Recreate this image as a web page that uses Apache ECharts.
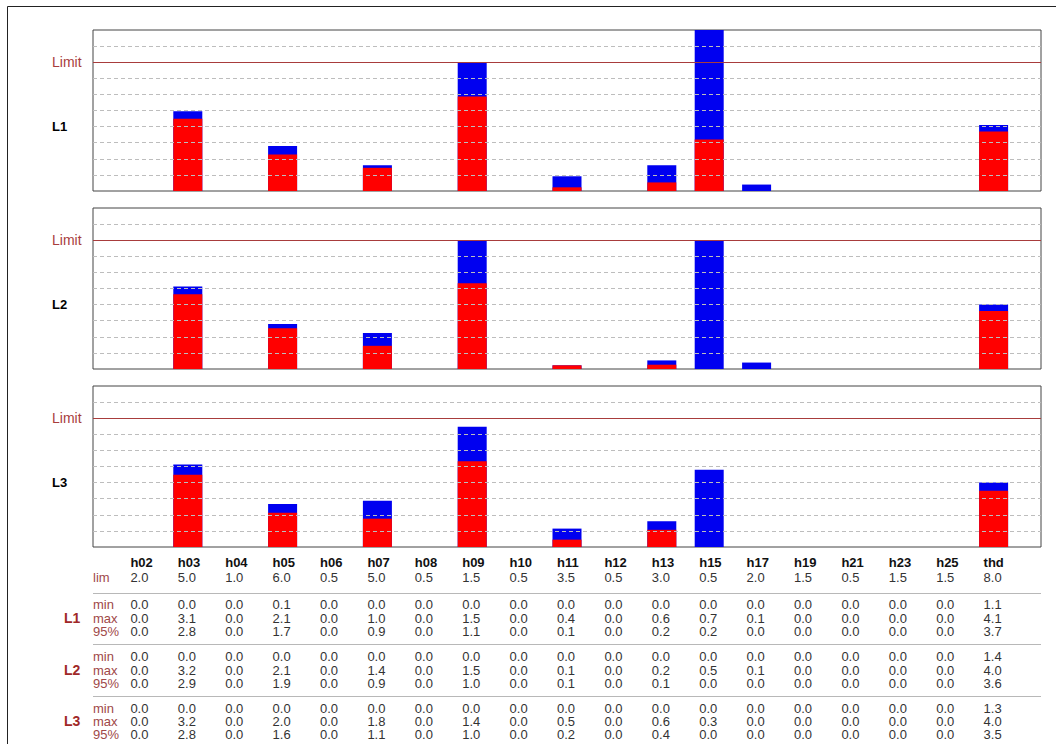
<!DOCTYPE html>
<html><head><meta charset="utf-8">
<script src="https://cdn.jsdelivr.net/npm/echarts@6/dist/echarts.min.js"></script>
<style>html,body{margin:0;padding:0;background:#fff}#c{width:1056px;height:744px}</style>
</head><body><div id="c"></div>
<script>
// ---------------- data ----------------
const categories = ['h02','h03','h04','h05','h06','h07','h08','h09','h10','h11','h12','h13','h15','h17','h19','h21','h23','h25','thd'];
const limits     = [2.0, 5.0, 1.0, 6.0, 0.5, 5.0, 0.5, 1.5, 0.5, 3.5, 0.5, 3.0, 0.5, 2.0, 1.5, 0.5, 1.5, 1.5, 8.0];

const L1_min = [0.0,0.0,0.0,0.1,0.0,0.0,0.0,0.0,0.0,0.0,0.0,0.0,0.0,0.0,0.0,0.0,0.0,0.0,1.1];
const L1_max = [0.0,3.1,0.0,2.1,0.0,1.0,0.0,1.5,0.0,0.4,0.0,0.6,0.7,0.1,0.0,0.0,0.0,0.0,4.1];
const L1_p95 = [0.0,2.8,0.0,1.7,0.0,0.9,0.0,1.1,0.0,0.1,0.0,0.2,0.2,0.0,0.0,0.0,0.0,0.0,3.7];

const L2_min = [0.0,0.0,0.0,0.0,0.0,0.0,0.0,0.0,0.0,0.0,0.0,0.0,0.0,0.0,0.0,0.0,0.0,0.0,1.4];
const L2_max = [0.0,3.2,0.0,2.1,0.0,1.4,0.0,1.5,0.0,0.1,0.0,0.2,0.5,0.1,0.0,0.0,0.0,0.0,4.0];
const L2_p95 = [0.0,2.9,0.0,1.9,0.0,0.9,0.0,1.0,0.0,0.1,0.0,0.1,0.0,0.0,0.0,0.0,0.0,0.0,3.6];

const L3_min = [0.0,0.0,0.0,0.0,0.0,0.0,0.0,0.0,0.0,0.0,0.0,0.0,0.0,0.0,0.0,0.0,0.0,0.0,1.3];
const L3_max = [0.0,3.2,0.0,2.0,0.0,1.8,0.0,1.4,0.0,0.5,0.0,0.6,0.3,0.0,0.0,0.0,0.0,0.0,4.0];
const L3_p95 = [0.0,2.8,0.0,1.6,0.0,1.1,0.0,1.0,0.0,0.2,0.0,0.4,0.0,0.0,0.0,0.0,0.0,0.0,3.5];

const phaseNames = ['L1','L2','L3'];
const rowNames = ['min','max','95%'];

// ---------------- layout / style ----------------
const FONT = "'Liberation Sans', Arial, sans-serif";
const GRID_LEFT = 93, GRID_W = 948, GRID_H = 161;
const GRID_TOPS = [30, 208, 386];
const LIMIT_COLOR = '#a83c3c';
const LABEL_RED = '#a04848';

const phases = [
  {name: 'L1', min: L1_min, max: L1_max, p95: L1_p95},
  {name: 'L2', min: L2_min, max: L2_max, p95: L2_p95},
  {name: 'L3', min: L3_min, max: L3_max, p95: L3_p95}
];

// axis categories padded with an empty slot at each end
const axisCats = [''].concat(categories, ['']);
function ratioData(vals) {
  return ['-'].concat(vals.map((v, i) => v / limits[i]), ['-']);
}

const grids = [], xAxes = [], yAxes = [], series = [];
phases.forEach((ph, gi) => {
  grids.push({left: GRID_LEFT, top: GRID_TOPS[gi], width: GRID_W, height: GRID_H,
    show: true, borderColor: '#444', borderWidth: 1, backgroundColor: 'transparent',
    containLabel: false, outerBoundsMode: 'none'});
  xAxes.push({type: 'category', gridIndex: gi, data: axisCats, boundaryGap: false,
    axisLine: {show: false}, axisTick: {show: false}, axisLabel: {show: false}, splitLine: {show: false}});
  yAxes.push({type: 'value', gridIndex: gi, min: 0, max: 1.25, interval: 0.125, z: 3,
    axisLine: {show: false}, axisTick: {show: false},
    splitLine: {show: true, showMinLine: false, showMaxLine: false,
      lineStyle: {color: '#bdbdbd', type: [4, 3], width: 1}},
    axisLabel: {
      show: true, align: 'left', margin: 41,
      formatter: function (v) {
        if (Math.abs(v - 1) < 1e-9) return '{lim|Limit}';
        if (Math.abs(v - 0.5) < 1e-9) return '{ph|' + ph.name + '}';
        return '';
      },
      rich: {
        lim: {color: LIMIT_COLOR, fontSize: 14, fontFamily: FONT},
        ph: {color: '#000', fontSize: 13, fontWeight: 'bold', fontFamily: FONT}
      }
    }
  });
  series.push({type: 'bar', name: ph.name + ' max', xAxisIndex: gi, yAxisIndex: gi,
    data: ratioData(ph.max), barWidth: 29, barGap: '-100%', clip: true,
    itemStyle: {color: '#0000f0'}, z: 2, silent: true});
  series.push({type: 'bar', name: ph.name + ' 95%', xAxisIndex: gi, yAxisIndex: gi,
    data: ratioData(ph.p95), barWidth: 29, barGap: '-100%', clip: true,
    itemStyle: {color: '#ff0000'}, z: 2, silent: true,
    markLine: {silent: true, symbol: 'none', z: 5, label: {show: false},
      lineStyle: {color: LIMIT_COLOR, type: 'solid', width: 1},
      data: [{yAxis: 1}]}});
});

const chart = echarts.init(document.getElementById('c'), null, {renderer: 'svg'});
const option = {
  animation: false,
  backgroundColor: '#fff',
  grid: grids, xAxis: xAxes, yAxis: yAxes, series: series
};
chart.setOption(option);

// ---------------- table under the chart ----------------
const ROW_Y = {head: 562, lim: 577, seps: [593, 644, 696],
  groups: [[604, 618, 631], [656, 670, 683], [708, 721, 734]]};
const g = [];
g.push({type: 'rect', shape: {x: 7.5, y: 6.5, width: 1100, height: 800}, z: 100,
  style: {fill: 'none', stroke: '#222', lineWidth: 1}});
function txt(s, x, y, font, fill) {
  g.push({type: 'text', z: 100, style: {text: s, x: x, y: y, font: font, fill: fill,
    align: 'left', verticalAlign: 'middle'}});
}
txt('lim', 93, ROW_Y.lim, '13px ' + FONT, LABEL_RED);
categories.forEach((c, i) => {
  const x = chart.convertToPixel({xAxisIndex: 2}, i + 1) - 10;
  txt(c, x, ROW_Y.head, 'bold 13px ' + FONT, '#111');
  txt(limits[i].toFixed(1), x, ROW_Y.lim, '13px ' + FONT, '#333');
  phases.forEach((ph, pi) => {
    [ph.min, ph.max, ph.p95].forEach((arr, ri) => {
      txt(arr[i].toFixed(1), x, ROW_Y.groups[pi][ri], '13px ' + FONT, '#333');
    });
  });
});
phases.forEach((ph, pi) => {
  g.push({type: 'line', z: 100, shape: {x1: 93, y1: ROW_Y.seps[pi] + 0.5, x2: 1041, y2: ROW_Y.seps[pi] + 0.5},
    style: {stroke: '#b8b8b8', lineWidth: 1}});
  txt(ph.name, 64, ROW_Y.groups[pi][1], 'bold 14px ' + FONT, '#a02828');
  rowNames.forEach((rn, ri) => txt(rn, 93, ROW_Y.groups[pi][ri], '13px ' + FONT, LABEL_RED));
});
chart.setOption({graphic: g});
</script></body></html>
